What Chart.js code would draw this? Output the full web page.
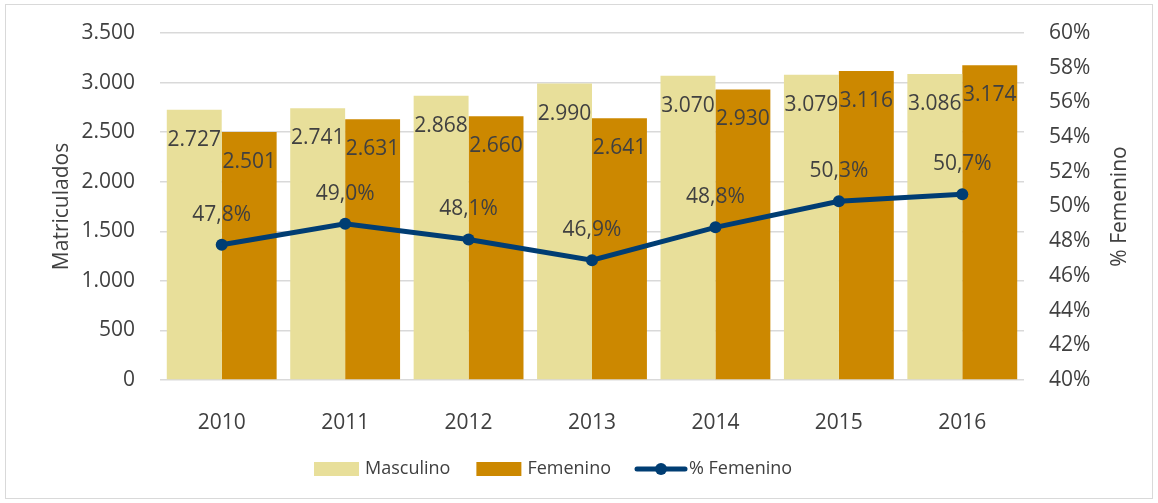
<!DOCTYPE html>
<html>
<head>
<meta charset="utf-8">
<script src="https://cdn.jsdelivr.net/npm/chart.js@4.4.1/dist/chart.umd.min.js"></script>
<style>
  html, body { margin: 0; padding: 0; background: #fff; }
  #frame { position: absolute; left: 5px; top: 4px; width: 1148px; height: 495px; border: 1px solid #d9d9d9; box-sizing: border-box; }
  #wrap { position: absolute; left: 0; top: 0; width: 1158px; height: 503px; }
</style>
</head>
<body>
<div id="frame"></div>
<div id="wrap"><canvas id="chart"></canvas></div>
<script>
// Datos
const years = ['2010', '2011', '2012', '2013', '2014', '2015', '2016'];
const masculino = [2727, 2741, 2868, 2990, 3070, 3079, 3086];
const femenino = [2501, 2631, 2660, 2641, 2930, 3116, 3174];
const pctFemenino = [47.8, 49.0, 48.1, 46.9, 48.8, 50.3, 50.7];

const FONT = "'Open Sans', 'Noto Sans', sans-serif";
const TEXT = '#404040';
const colors = { masc: '#E8DF9A', fem: '#CC8800', line: '#003D73' };

const fmtMiles = v => Math.round(v).toString().replace(/\B(?=(\d{3})+(?!\d))/g, '.');
const fmtPct = v => v.toFixed(1).replace('.', ',') + '%';

// Etiquetas de datos
const dataLabels = {
  id: 'dataLabels',
  afterDatasetsDraw(chart) {
    const ctx = chart.ctx;
    ctx.save();
    ctx.font = `21px ${FONT}`;
    ctx.fillStyle = TEXT;
    ctx.textAlign = 'center';
    ctx.textBaseline = 'middle';
    chart.data.datasets.forEach((ds, i) => {
      const meta = chart.getDatasetMeta(i);
      meta.data.forEach((el, j) => {
        if (ds.type === 'line') {
          ctx.fillText(fmtPct(ds.data[j]), el.x, el.y - 30);
        } else {
          ctx.fillText(fmtMiles(ds.data[j]), el.x, el.y + 30);
        }
      });
    });
    ctx.restore();
  }
};

// Titulo del eje derecho (girado como en Excel)
const rightTitle = {
  id: 'rightTitle',
  afterDraw(chart) {
    const ctx = chart.ctx;
    const area = chart.chartArea;
    ctx.save();
    ctx.font = `21px ${FONT}`;
    ctx.fillStyle = TEXT;
    ctx.textAlign = 'center';
    ctx.textBaseline = 'middle';
    ctx.translate(chart.scales.y1.right - 38, (area.top + area.bottom) / 2);
    ctx.rotate(-Math.PI / 2);
    ctx.fillText('% Femenino', 0, 0);
    ctx.restore();
  }
};

// Leyenda manual
const legendPlugin = {
  id: 'customLegend',
  afterDraw(chart) {
    const ctx = chart.ctx;
    ctx.save();
    ctx.font = `18px ${FONT}`;
    ctx.fillStyle = TEXT;
    ctx.textBaseline = 'middle';
    const y = 469;
    let x = 314;
    const items = [
      { label: 'Masculino', kind: 'box', color: colors.masc },
      { label: 'Femenino', kind: 'box', color: colors.fem },
      { label: '% Femenino', kind: 'line', color: colors.line }
    ];
    items.forEach(it => {
      if (it.kind === 'box') {
        ctx.fillStyle = it.color;
        ctx.fillRect(x, y - 7, 45, 14);
      } else {
        ctx.strokeStyle = it.color;
        ctx.lineWidth = 5;
        ctx.lineCap = 'round';
        ctx.beginPath();
        ctx.moveTo(x, y);
        ctx.lineTo(x + 48, y);
        ctx.stroke();
        ctx.fillStyle = it.color;
        ctx.beginPath();
        ctx.arc(x + 24, y, 6, 0, Math.PI * 2);
        ctx.fill();
      }
      ctx.fillStyle = TEXT;
      const tx = x + (it.kind === 'box' ? 51 : 52);
      ctx.fillText(it.label, tx, y);
      x = tx + ctx.measureText(it.label).width + 26;
    });
    ctx.restore();
  }
};

new Chart(document.getElementById('chart'), {
  type: 'bar',
  data: {
    labels: years,
    datasets: [
      {
        type: 'line',
        label: '% Femenino',
        data: pctFemenino,
        yAxisID: 'y1',
        borderColor: colors.line,
        backgroundColor: colors.line,
        borderWidth: 5,
        pointRadius: 6,
        pointBackgroundColor: colors.line,
        pointBorderWidth: 0,
        tension: 0,
        order: 0
      },
      {
        label: 'Masculino',
        data: masculino,
        yAxisID: 'y',
        backgroundColor: colors.masc,
        categoryPercentage: 0.89,
        barPercentage: 1.0,
        order: 1
      },
      {
        label: 'Femenino',
        data: femenino,
        yAxisID: 'y',
        backgroundColor: colors.fem,
        categoryPercentage: 0.89,
        barPercentage: 1.0,
        order: 1
      }
    ]
  },
  options: {
    responsive: true,
    maintainAspectRatio: false,
    animation: false,
    layout: { padding: { top: 33, right: 0, bottom: 0, left: 0 } },
    plugins: {
      legend: { display: false },
      tooltip: { enabled: false }
    },
    scales: {
      x: {
        grid: { display: false },
        border: { display: false },
        ticks: { color: TEXT, font: { family: FONT, size: 21 }, padding: 22 },
        afterFit: s => { s.height = 123; }
      },
      y: {
        position: 'left',
        min: 0, max: 3500,
        ticks: { stepSize: 500, color: TEXT, font: { family: FONT, size: 21 }, padding: 25, callback: v => fmtMiles(v) },
        grid: { color: '#d9d9d9', lineWidth: 1.5, drawTicks: false },
        border: { display: false },
        title: { display: true, text: 'Matriculados', color: TEXT, font: { family: FONT, size: 21 }, padding: { top: 49, bottom: 0 } },
        afterFit: s => { s.width = 160; s.paddingTop = 12; s.paddingBottom = 12; }
      },
      y1: {
        position: 'right',
        min: 40, max: 60,
        ticks: { stepSize: 2, color: TEXT, font: { family: FONT, size: 21 }, padding: 25, callback: v => v + '%' },
        grid: { display: false, drawTicks: false },
        border: { display: false },
        afterFit: s => { s.width = 134; s.paddingTop = 12; s.paddingBottom = 12; }
      }
    }
  },
  plugins: [dataLabels, rightTitle, legendPlugin]
});
</script>
</body>
</html>
